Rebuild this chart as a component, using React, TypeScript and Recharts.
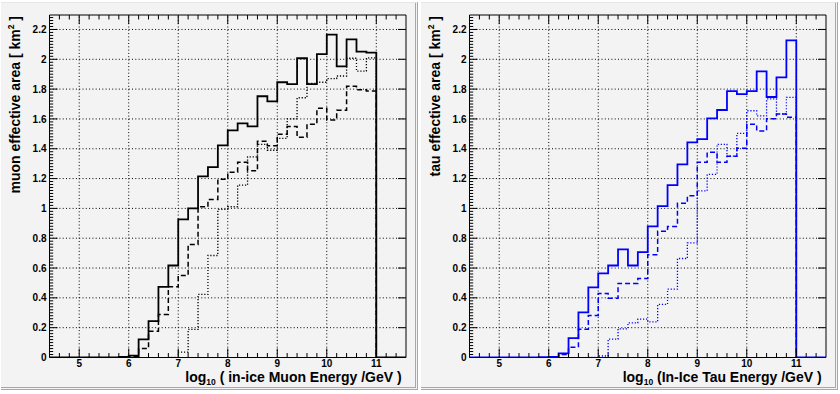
import React from 'react';
import { LineChart, Line, XAxis, YAxis, ReferenceLine, ReferenceArea } from 'recharts';

// lower edges of the 0.2 wide bins, log10(E / GeV)
const binEdges = [5.8, 6.0, 6.2, 6.4, 6.6, 6.8, 7.0, 7.2, 7.4, 7.6, 7.8, 8.0, 8.2, 8.4, 8.6, 8.8, 9.0, 9.2, 9.4, 9.6, 9.8, 10.0, 10.2, 10.4, 10.6, 10.8];
const lastEdge = 11.0;

// muon effective area [km^2]
const muonSolid = [0.004, 0.013, 0.121, 0.244, 0.474, 0.617, 0.926, 1.0, 1.215, 1.277, 1.423, 1.523, 1.57, 1.55, 1.752, 1.718, 1.846, 1.834, 2.007, 1.834, 2.034, 2.165, 1.953, 2.134, 2.051, 2.044];
const muonDashed = [0, 0.008, 0.06, 0.176, 0.289, 0.474, 0.55, 0.758, 1.011, 1.06, 1.195, 1.242, 1.309, 1.252, 1.45, 1.42, 1.497, 1.55, 1.477, 1.564, 1.671, 1.593, 1.658, 1.819, 1.796, 1.787];
const muonDotted = [null, null, null, null, null, 0, 0.036, 0.188, 0.423, 0.684, 0.993, 1.011, 1.156, 1.346, 1.43, 1.39, 1.47, 1.6, 1.742, 1.839, 1.846, 1.87, 1.888, 2.007, 1.921, 2.01];

// tau effective area [km^2]
const tauSolid = [0.002, 0.004, 0.027, 0.13, 0.302, 0.47, 0.564, 0.617, 0.725, 0.617, 0.707, 0.879, 1.015, 1.156, 1.295, 1.443, 1.465, 1.604, 1.66, 1.787, 1.767, 1.787, 1.919, 1.747, 1.879, 2.127];
const tauDashed = [null, 0, 0.02, 0.069, 0.19, 0.282, 0.43, 0.398, 0.497, 0.497, 0.53, 0.689, 0.846, 0.879, 1.034, 1.085, 1.309, 1.376, 1.309, 1.349, 1.403, 1.564, 1.519, 1.601, 1.633, 1.611];
const tauDotted = [null, null, null, null, null, 0, 0.01, 0.123, 0.192, 0.232, 0.257, 0.239, 0.356, 0.458, 0.664, 0.769, 1.118, 1.228, 1.43, 1.35, 1.503, 1.655, 1.62, 1.734, 1.633, 1.745];

const xLabels = [5, 6, 7, 8, 9, 10, 11];
const yLabels = [0, 0.2, 0.4, 0.6, 0.8, 1, 1.2, 1.4, 1.6, 1.8, 2, 2.2];

const X_DOMAIN = [4.4, 11.6];
const Y_DOMAIN = [0, 2.297];
const PLOT = { left: 49.5, right: 406, top: 15, bottom: 357.5 };
const FONT = '"Liberation Sans", Arial, Helvetica, sans-serif';

// minor tick positions
const xTicks: number[] = [];
for (let i = 23; i <= 57; i++) xTicks.push(Math.round(i * 2) / 10);
const yTicks: number[] = [];
for (let i = 0; i <= 114; i++) yTicks.push(Math.round(i * 2) / 100);

const isIn = (arr: number[], v: number) => arr.some(a => Math.abs(a - v) < 1e-6);

function XTick(props: any) {
  const { x, y, payload } = props;
  const v = payload.value;
  const major = isIn(xLabels, v);
  const len = major ? 9 : 4.5;
  return (
    <g>
      <line x1={x} x2={x} y1={y} y2={y - len} stroke="#000" />
      <line x1={x} x2={x} y1={PLOT.top} y2={PLOT.top + len} stroke="#000" />
      {major && (
        <text x={x} y={y + 9} textAnchor="middle" fontFamily={FONT} fontWeight="bold" fontSize={10} fill="#000">
          {v}
        </text>
      )}
    </g>
  );
}

function YTick(props: any) {
  const { x, y, payload } = props;
  const v = payload.value;
  const major = isIn(yLabels, v);
  const len = major ? 8 : 3.7;
  return (
    <g>
      <line x1={x} x2={x + len} y1={y} y2={y} stroke="#000" />
      {major && <line x1={PLOT.right - len} x2={PLOT.right} y1={y} y2={y} stroke="#000" />}
      {major && (
        <text x={x - 3} y={y + 3.6} textAnchor="end" fontFamily={FONT} fontWeight="bold" fontSize={10} fill="#000">
          {String(v)}
        </text>
      )}
    </g>
  );
}

function buildRows(solid: (number | null)[], dashed: (number | null)[], dotted: (number | null)[]) {
  const rows: any[] = [{ x: X_DOMAIN[0], solid: 0, dashed: null, dotted: null }];
  binEdges.forEach((e, i) => rows.push({ x: e, solid: solid[i], dashed: dashed[i], dotted: dotted[i] }));
  rows.push({ x: lastEdge, solid: 0, dashed: 0, dotted: 0 });
  rows.push({ x: X_DOMAIN[1], solid: 0, dashed: null, dotted: null });
  return rows;
}

function Panel({ left, color, solid, dashed, dotted, yTitle, xTitle }: any) {
  const data = buildRows(solid, dashed, dotted);
  const grid = { stroke: '#000', strokeWidth: 1, strokeDasharray: '1 2.3' };
  return (
    <div style={{ position: 'absolute', left, top: 0, width: 420, height: 394 }}>
      <div
        style={{
          position: 'absolute', left: 1, top: 2, width: 417, height: 388, boxSizing: 'border-box',
          background: '#f3f3f3', borderTop: '1px solid #e6e6e6',
          borderRight: '3px double #a8a8a8', borderBottom: '3px double #a8a8a8',
        }}
      />
      <div style={{ position: 'absolute', left: 0, top: 0 }}>
        <LineChart width={420} height={394} data={data} margin={{ top: 15, right: 14, bottom: 6.5, left: 9.5 }}>
          <XAxis
            dataKey="x" type="number" domain={X_DOMAIN} allowDataOverflow ticks={xTicks} interval={0}
            tickSize={0} tickMargin={0} axisLine={false} height={30} tick={(p: any) => <XTick {...p} />}
          />
          <YAxis
            type="number" domain={Y_DOMAIN} allowDataOverflow ticks={yTicks} interval={0}
            tickSize={0} tickMargin={0} axisLine={false} width={40} tick={(p: any) => <YTick {...p} />}
          />
          <ReferenceArea x1={X_DOMAIN[0]} x2={X_DOMAIN[1]} y1={Y_DOMAIN[0]} y2={Y_DOMAIN[1]} fill="none" stroke="#000" strokeWidth={1} fillOpacity={0} />
          {xLabels.map(v => <ReferenceLine key={'vx' + v} x={v} {...grid} />)}
          {yLabels.filter(v => v > 0).map(v => <ReferenceLine key={'hy' + v} y={v} {...grid} />)}
          <Line type="stepAfter" dataKey="dotted" stroke={color} strokeWidth={1.3} strokeDasharray="1.2 1.8" dot={false} isAnimationActive={false} connectNulls={false} />
          <Line type="stepAfter" dataKey="dashed" stroke={color} strokeWidth={1.5} strokeDasharray="5 3" dot={false} isAnimationActive={false} connectNulls={false} />
          <Line type="stepAfter" dataKey="solid" stroke={color} strokeWidth={1.8} dot={false} isAnimationActive={false} connectNulls={false} />
        </LineChart>
      </div>
      <svg width={420} height={394} style={{ position: 'absolute', left: 0, top: 0, pointerEvents: 'none' }}>
        <text transform="translate(19.5,16) rotate(-90)" textAnchor="end" fontFamily={FONT} fontWeight="bold" fontSize={14} fill="#000">
          {yTitle} [ km<tspan fontSize={8.5} dy={-5.5}>2</tspan><tspan dy={5.5}> ]</tspan>
        </text>
        <text x={401.7} y={381.5} textAnchor="end" fontFamily={FONT} fontWeight="bold" fontSize={14} fill="#000">
          log<tspan fontSize={8.5} dy={3.5}>10</tspan><tspan dy={-3.5}>{xTitle}</tspan>
        </text>
      </svg>
    </div>
  );
}

export default function App() {
  return (
    <div style={{ position: 'absolute', left: 0, top: 0, width: 840, height: 394, background: '#fff', overflow: 'hidden' }}>
      <Panel left={0} color="#000" solid={muonSolid} dashed={muonDashed} dotted={muonDotted}
        yTitle="muon effective area" xTitle={' ( in-ice Muon Energy /GeV )'} />
      <Panel left={420} color="#0000ff" solid={tauSolid} dashed={tauDashed} dotted={tauDotted}
        yTitle="tau effective area" xTitle={' (In-Ice Tau Energy /GeV )'} />
    </div>
  );
}
